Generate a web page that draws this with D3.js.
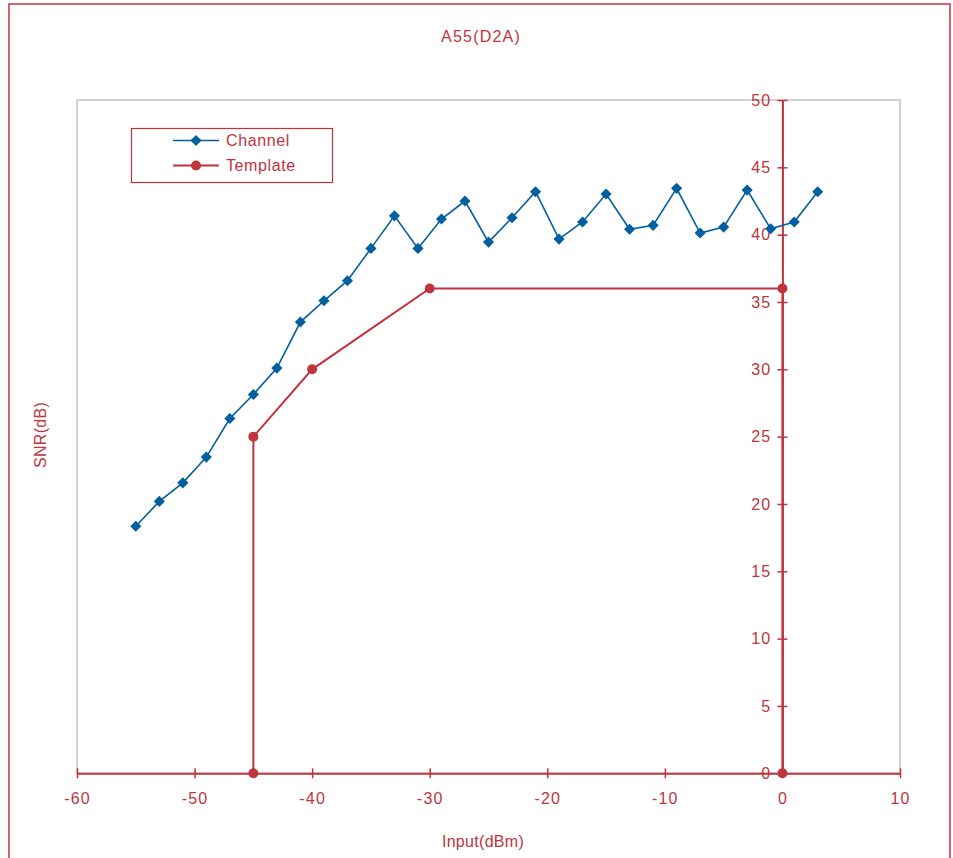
<!DOCTYPE html>
<html>
<head>
<meta charset="utf-8">
<script src="https://cdn.jsdelivr.net/npm/d3@7"></script>
<style>
  html, body { margin: 0; padding: 0; background: #fff; }
  svg { display: block; font-family: "Liberation Sans", Arial, sans-serif; }
</style>
</head>
<body>
<svg id="chart" width="953" height="858"></svg>
<script>
// ---- Data ----
const channelX = [-55,-53,-51,-49,-47,-45,-43,-41,-39,-37,-35,-33,-31,-29,-27,-25,-23,-21,-19,-17,-15,-13,-11,-9,-7,-5,-3,-1,1,3];
const channelY = [18.35,20.19,21.57,23.48,26.35,28.13,30.09,33.51,35.09,36.58,38.98,41.40,38.98,41.16,42.5,39.45,41.26,43.19,39.67,40.94,43.02,40.4,40.69,43.44,40.12,40.56,43.31,40.44,40.94,43.19];
const templateX = [-45,-45,-40,-30,0,0];
const templateY = [0,25,30,36,36,0];
const xTicks = [-60,-50,-40,-30,-20,-10,0,10];
const yTicks = [0,5,10,15,20,25,30,35,40,45,50];
const seriesNames = ["Channel","Template"];
const titleText = "A55(D2A)";
const xTitle = "Input(dBm)";
const yTitle = "SNR(dB)";

// ---- Styles ----
const RED = "#C0343E";
const BLUE = "#005F9E";
const GRAY = "#C4C4C4";

(function () {
const svg = d3.select("#chart");

// outer border
svg.append("rect").attr("x", 9).attr("y", 4).attr("width", 941).attr("height", 900)
  .attr("fill", "none").attr("stroke", RED).attr("stroke-width", 1.5);

const pL = 77, pR = 900, pT = 100, pB = 773.3;
const x = d3.scaleLinear().domain([-60, 10]).range([pL, pR]);
const y = d3.scaleLinear().domain([0, 50]).range([pB, pT]);
const fmt = d => String(d);

// plot area border
svg.append("rect").attr("x", pL).attr("y", pT).attr("width", pR - pL).attr("height", pB - pT)
  .attr("fill", "none").attr("stroke", GRAY).attr("stroke-width", 1.5);

// title
svg.append("text").attr("x", 481).attr("y", 41.5).attr("text-anchor", "middle")
  .attr("fill", RED).attr("font-size", 16).attr("letter-spacing", 1.2).text(titleText);

// axis titles
svg.append("text").attr("x", 483).attr("y", 847).attr("text-anchor", "middle")
  .attr("fill", RED).attr("font-size", 16).attr("letter-spacing", 0.3).text(xTitle);
svg.append("text").attr("transform", "translate(46,435) rotate(-90)").attr("text-anchor", "middle")
  .attr("fill", RED).attr("font-size", 16).attr("letter-spacing", 0.3).text(yTitle);

// X axis at y=0
const xAxis = svg.append("g").attr("transform", `translate(0,${y(0)})`)
  .call(d3.axisBottom(x).tickValues(xTicks).tickSize(5).tickPadding(0).tickSizeOuter(0).tickFormat(fmt));
xAxis.select(".domain").attr("stroke", RED).attr("stroke-width", 2);
xAxis.selectAll(".tick line").attr("stroke", RED).attr("stroke-width", 1.5).attr("y1", -5).attr("y2", 5);
xAxis.selectAll(".tick text").attr("fill", RED).attr("font-size", 16).attr("letter-spacing", 1.2)
  .attr("font-family", "Liberation Sans, Arial, sans-serif").attr("dy", 0).attr("y", 31);

// Y axis at x=0
const yAxis = svg.append("g").attr("transform", `translate(${x(0)},0)`)
  .call(d3.axisLeft(y).tickValues(yTicks).tickSize(5).tickPadding(9).tickSizeOuter(0).tickFormat(fmt));
yAxis.select(".domain").attr("stroke", RED).attr("stroke-width", 2);
yAxis.selectAll(".tick line").attr("stroke", RED).attr("stroke-width", 1.5).attr("x1", -5).attr("x2", 5);
yAxis.selectAll(".tick text").attr("fill", RED).attr("font-size", 16).attr("letter-spacing", 1.2)
  .attr("font-family", "Liberation Sans, Arial, sans-serif").attr("x", -11);

// template series
const tData = templateX.map((d, i) => [d, templateY[i]]);
svg.append("path").datum(tData)
  .attr("d", d3.line().x(d => x(d[0])).y(d => y(d[1])))
  .attr("fill", "none").attr("stroke", RED).attr("stroke-width", 2);
svg.selectAll(".tdot").data(tData).enter().append("circle")
  .attr("cx", d => x(d[0])).attr("cy", d => y(d[1])).attr("r", 5).attr("fill", RED);

// channel series
const cData = channelX.map((d, i) => [d, channelY[i]]);
svg.append("path").datum(cData)
  .attr("d", d3.line().x(d => x(d[0])).y(d => y(d[1])))
  .attr("fill", "none").attr("stroke", BLUE).attr("stroke-width", 1.6);
const diamond = d3.symbol().type(d3.symbolSquare).size(62);
svg.selectAll(".cdot").data(cData).enter().append("path")
  .attr("d", diamond).attr("transform", d => `translate(${x(d[0])},${y(d[1])}) rotate(45)`)
  .attr("fill", BLUE);

// legend
const lg = svg.append("g");
lg.append("rect").attr("x", 131.5).attr("y", 128.5).attr("width", 201).attr("height", 54)
  .attr("fill", "#fff").attr("stroke", RED).attr("stroke-width", 1.2);
const legendColors = [BLUE, RED];
seriesNames.forEach((name, i) => {
  const ly = 140.5 + i * 25;
  lg.append("line").attr("x1", 173).attr("x2", 219).attr("y1", ly).attr("y2", ly)
    .attr("stroke", legendColors[i]).attr("stroke-width", i === 0 ? 1.6 : 2);
  if (i === 0) {
    lg.append("path").attr("d", diamond).attr("transform", `translate(196,${ly}) rotate(45)`).attr("fill", BLUE);
  } else {
    lg.append("circle").attr("cx", 196).attr("cy", ly).attr("r", 5).attr("fill", RED);
  }
  lg.append("text").attr("x", 226).attr("y", ly + 5.5).attr("fill", RED).attr("font-size", 16)
    .attr("letter-spacing", 0.6).text(name);
});
})();
</script>
</body>
</html>
